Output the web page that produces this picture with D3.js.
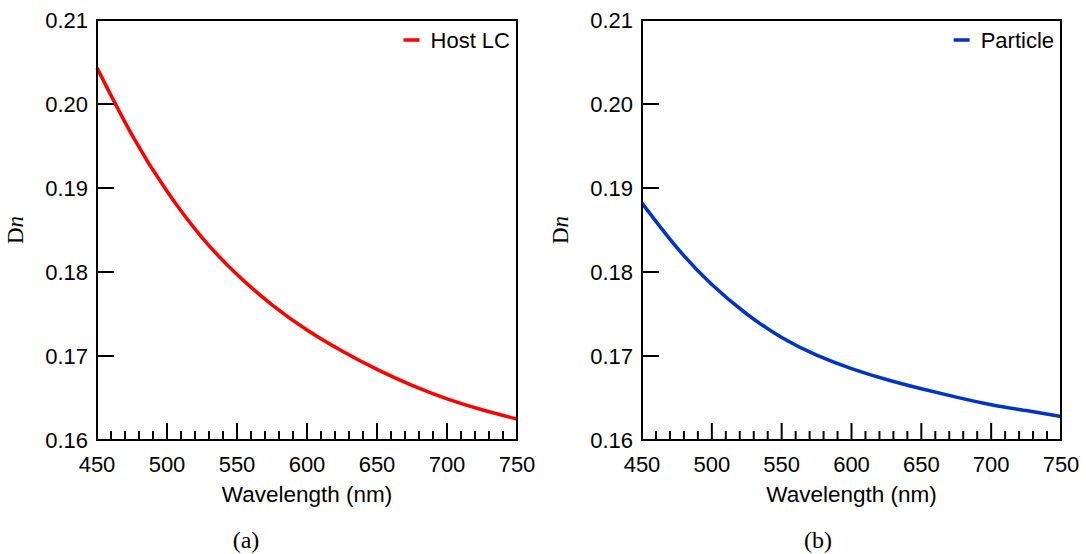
<!DOCTYPE html>
<html><head><meta charset="utf-8">
<script src="https://cdn.jsdelivr.net/npm/d3@7"></script>
<style>body{margin:0;background:#fff}svg{display:block}</style>
</head><body>
<script>
const wavelengths = [450,475,500,525,550,575,600,625,650,675,700,725,750];
const hostLC =   [0.2043,0.1963,0.1896,0.1841,0.1797,0.1761,0.1731,0.1706,0.1684,0.1665,0.1649,0.1636,0.1625];
const particle = [0.1882,0.1829,0.1785,0.1750,0.1722,0.1701,0.1685,0.1672,0.1661,0.1651,0.1642,0.1635,0.1628];
const xTicks = [450,500,550,600,650,700,750];
const xMinor = d3.range(460,750,10);
const yTicks = [0.16,0.17,0.18,0.19,0.20,0.21];
const panels = [
  {name:"Host LC", values:hostLC, color:"#ff0000", caption:"(a)", left:97, right:517},
  {name:"Particle", values:particle, color:"#0033cc", caption:"(b)", left:642, right:1061}
];

const W=1086,H=554, plotTop=20, plotBottom=440;
const svg=d3.select("body").append("svg").attr("width",W).attr("height",H);
const sans="Liberation Sans, Arial, sans-serif", serif="Liberation Serif, Times New Roman, serif";

panels.forEach((p,pi)=>{
  const x=d3.scaleLinear().domain([450,750]).range([p.left,p.right]);
  const y=d3.scaleLinear().domain([0.16,0.21]).range([plotBottom,plotTop]);
  const g=svg.append("g");
  const line=d3.line().x((d,i)=>x(wavelengths[i])).y(d=>y(d)).curve(d3.curveNatural);
  g.append("path").datum(p.values).attr("d",line).attr("fill","none")
    .attr("stroke",p.color).attr("stroke-width",3.5);
  g.selectAll(".yt").data(yTicks).enter().append("line")
    .attr("x1",x(450)).attr("x2",x(450)+17).attr("y1",d=>y(d)).attr("y2",d=>y(d))
    .attr("stroke","#000").attr("stroke-width",2);
  g.selectAll(".yl").data(yTicks).enter().append("text")
    .attr("x",x(450)-9).attr("y",d=>y(d)).attr("dy","0.35em").attr("text-anchor","end")
    .attr("font-family",sans).attr("font-size",22).text(d=>d3.format(".2f")(d));
  g.selectAll(".xt").data(xTicks).enter().append("line")
    .attr("x1",d=>x(d)).attr("x2",d=>x(d)).attr("y1",plotBottom).attr("y2",plotBottom-17)
    .attr("stroke","#000").attr("stroke-width",2);
  g.selectAll(".xm").data(xMinor.filter(v=>v%50!==0)).enter().append("line")
    .attr("x1",d=>x(d)).attr("x2",d=>x(d)).attr("y1",plotBottom).attr("y2",plotBottom-9)
    .attr("stroke","#000").attr("stroke-width",2);
  g.selectAll(".xl").data(xTicks).enter().append("text")
    .attr("x",d=>x(d)).attr("y",464).attr("dy","0.35em").attr("text-anchor","middle")
    .attr("font-family",sans).attr("font-size",22).text(d=>d);
  g.append("rect").attr("x",x(450)).attr("y",plotTop).attr("width",x(750)-x(450)).attr("height",plotBottom-plotTop)
    .attr("fill","none").attr("stroke","#000").attr("stroke-width",2);
  g.append("text").attr("x",(p.left+p.right)/2).attr("y",494).attr("dy","0.35em")
    .attr("text-anchor","middle").attr("font-family",sans).attr("font-size",22.5).text("Wavelength (nm)");
  const yl=g.append("text").attr("transform",`translate(${p.left-74},230) rotate(-90)`)
    .attr("text-anchor","middle").attr("font-family",serif).attr("font-size",23);
  yl.append("tspan").text("D");
  yl.append("tspan").attr("font-style","italic").text("n");
  const tx=g.append("text").attr("x",p.right-7).attr("y",40).attr("dy","0.35em").attr("text-anchor","end")
    .attr("font-family",sans).attr("font-size",22).text(p.name);
  const bb=tx.node().getBBox();
  g.append("line").attr("x1",bb.x-27).attr("x2",bb.x-11).attr("y1",40).attr("y2",40)
    .attr("stroke",p.color).attr("stroke-width",3.5);
  svg.append("text").attr("x",pi===0?246:818).attr("y",540).attr("dy","0.35em")
    .attr("text-anchor","middle").attr("font-family",serif).attr("font-size",24).text(p.caption);
});
</script>
</body></html>
